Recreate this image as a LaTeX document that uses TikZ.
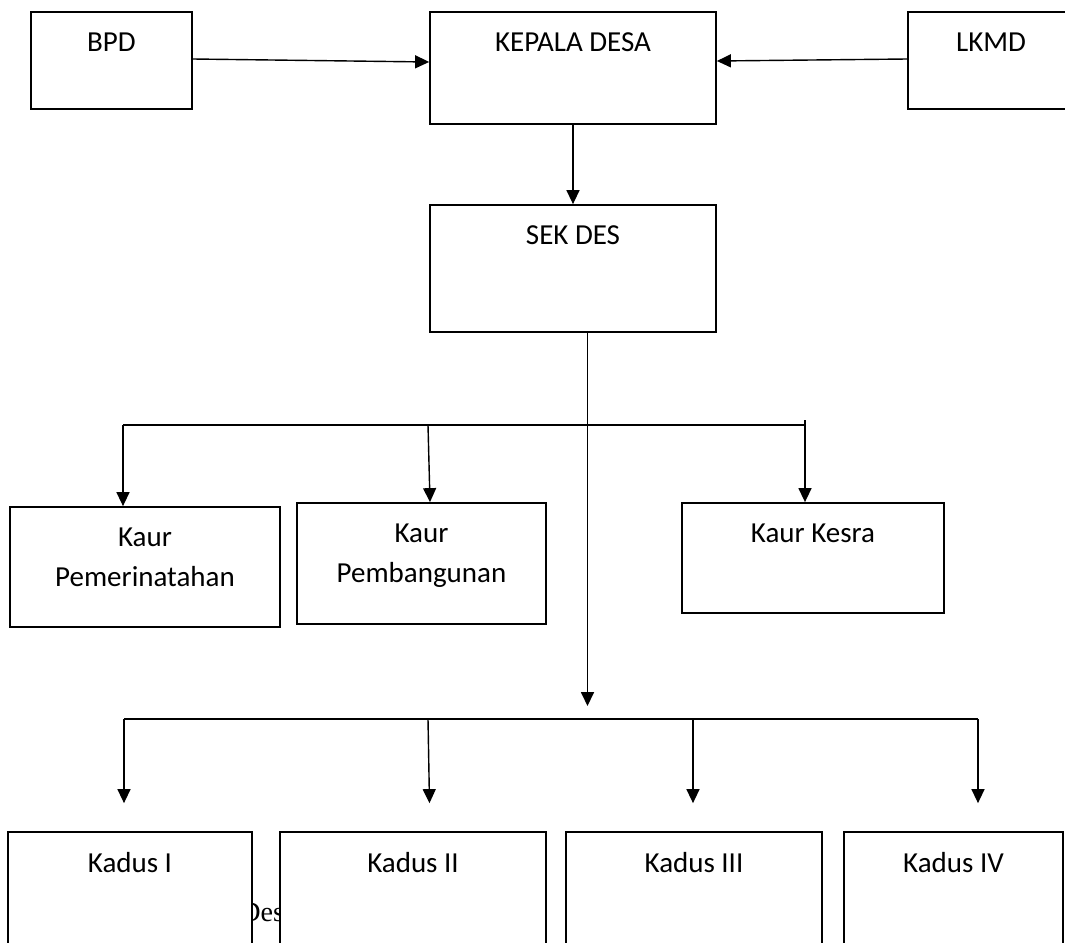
\documentclass[tikz,border=0pt]{standalone}
\usepackage{fontspec}
\setmainfont{Carlito}
\newfontfamily\desfont{Liberation Serif}
\usetikzlibrary{arrows.meta,positioning}

\begin{document}
\begin{tikzpicture}[x=0.02cm,y=-0.02cm,>={Triangle[length=0.28cm,width=0.26cm]},
    box/.style={draw,fill=white,line width=1pt,inner sep=0pt},
    lbl/.style={anchor=north,yshift=-0.42cm,inner sep=0pt,align=center,
      font=\fontsize{16.5}{23.2}\selectfont},
    line/.style={line width=0.8pt}]

  \useasboundingbox (0,0) rectangle (1065,943);

  % Teks tertutup
  \node[font=\desfont\fontsize{16}{19}\selectfont,anchor=base west,inner sep=0pt] (des) at (240,921) {Des};

  % Kotak
  \node[box,minimum width=161*0.02cm,minimum height=97*0.02cm,label={[lbl]north:BPD}] (bpd) at (111.5,60.5) {};
  \node[box,minimum width=286*0.02cm,minimum height=112*0.02cm,label={[lbl]north:KEPALA DESA}] (kades) at (573,68) {};
  \node[box,minimum width=172*0.02cm,minimum height=97*0.02cm,label={[lbl,xshift=-0.06cm]north:LKMD}] (lkmd) at (994,60.5) {};
  \node[box,minimum width=286*0.02cm,minimum height=127*0.02cm,label={[lbl]north:SEK DES}] (sekdes) at (573,268.5) {};

  \node[box,minimum width=270*0.02cm,minimum height=120*0.02cm,label={[lbl]north:Kaur\\Pemerinatahan}] (kaur1) at (145,567) {};
  \node[box,minimum width=249*0.02cm,minimum height=121*0.02cm,label={[lbl]north:Kaur\\Pembangunan}] (kaur2) at (421.5,563.5) {};
  \node[box,minimum width=262*0.02cm,minimum height=110*0.02cm,label={[lbl]north:Kaur Kesra}] (kaur3) at (813,558) {};

  \node[box,minimum width=244*0.02cm,minimum height=130*0.02cm,label={[lbl]north:Kadus I}] (kadus1) at (130,897) {};
  \node[box,minimum width=266*0.02cm,minimum height=130*0.02cm,label={[lbl]north:Kadus II}] (kadus2) at (413,897) {};
  \node[box,minimum width=256*0.02cm,minimum height=130*0.02cm,label={[lbl]north:Kadus III}] (kadus3) at (694,897) {};
  \node[box,minimum width=219*0.02cm,minimum height=130*0.02cm,label={[lbl]north:Kadus IV}] (kadus4) at (953.5,897) {};

  % Titik cabang
  \coordinate (kaurL) at (123,425);
  \coordinate (kaurM) at (428,425);
  \coordinate (kaurR) at (805,420);
  \coordinate (kdsL) at (124,719);
  \coordinate (kdsB) at (428,719);
  \coordinate (kdsC) at (693,719);
  \coordinate (kdsR) at (978,719);
  \coordinate (pusat) at (587.5,719);

  % Panah
  \draw[line,->] ([yshift=0.03cm]bpd.east) -- ([yshift=0.12cm]kades.west);
  \draw[line,->] ([yshift=0.03cm]lkmd.west) -- ([yshift=0.14cm]kades.east);
  \draw[line,->] (kades.south) -- (sekdes.north);

  \draw[line,line width=1pt,->,shorten >=0.26cm] (sekdes.south -| pusat) -- (pusat);

  \draw[line] (kaurL) -- (kaurL -| kaurR);
  \draw[line,->] (kaurL) -- (kaurL |- kaur1.north);
  \draw[line,->] (kaurM) -- ([xshift=0.17cm]kaur2.north);
  \draw[line,->] (kaurR) -- (kaurR |- kaur3.north);

  \draw[line] (kdsL) -- (kdsR);
  \draw[line,->,shorten >=0.56cm] (kdsL) -- (kdsL |- kadus1.north);
  \draw[line,->,shorten >=0.56cm] (kdsB) -- ([xshift=0.34cm]kadus2.north);
  \draw[line,->,shorten >=0.56cm] (kdsC) -- (kdsC |- kadus3.north);
  \draw[line,->,shorten >=0.56cm] (kdsR) -- (kdsR |- kadus4.north);

\end{tikzpicture}
\end{document}
